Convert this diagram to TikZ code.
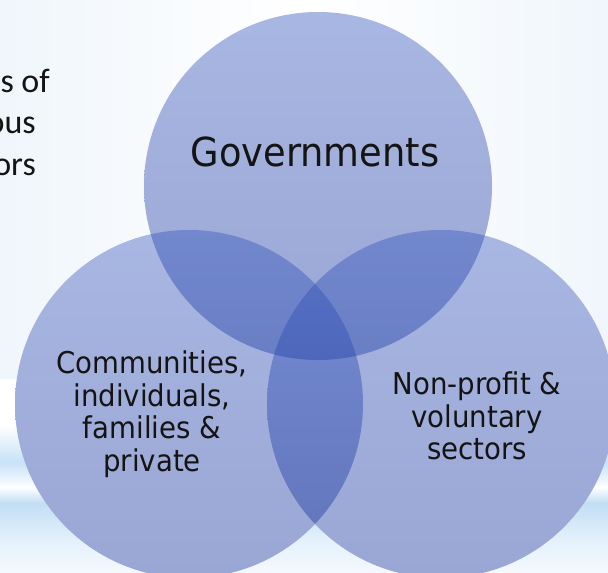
\documentclass[tikz,border=0pt]{standalone}
\usepackage{fontspec}
\setmainfont[FakeStretch=0.92]{DejaVu Sans}
\newfontfamily\slidefont{Carlito}
\definecolor{circtop}{RGB}{55,88,190}
\definecolor{circbot}{RGB}{22,50,155}
\definecolor{bgside}{RGB}{240,246,252}
\definecolor{bandA}{RGB}{200,226,247}
\definecolor{bandB}{RGB}{224,239,251}
\definecolor{bandC}{RGB}{194,222,245}
\definecolor{bandD}{RGB}{228,241,251}
\definecolor{bandE}{RGB}{245,249,253}
\definecolor{ink}{RGB}{20,20,20}
\tikzset{
  venn/.style={circle, minimum size=348pt, inner sep=0pt, draw=none,
    top color=circtop, bottom color=circbot, fill opacity=0.43},
  lab/.style={text=ink, align=center, inner sep=0pt},
  slidetext/.style={text=ink, inner sep=0pt, anchor=base east,
    font=\slidefont\fontsize{34}{40}\selectfont}
}
\begin{document}
\begin{tikzpicture}[x=1pt,y=-1pt]
\useasboundingbox (0,0) rectangle (608,573);
% background
\fill[white] (0,0) rectangle (608,573);
\shade[left color=bgside, right color=bgside, middle color=white] (0,0) rectangle (608,378);
\shade[top color=white, bottom color=bandA] (0,425) rectangle (608,462);
\shade[top color=bandA, bottom color=bandB] (0,462) rectangle (608,474);
\shade[top color=bandB, bottom color=white] (0,474) rectangle (608,487);
\shade[top color=white, bottom color=bandC] (0,487) rectangle (608,503);
\shade[top color=bandC, bottom color=bandD] (0,503) rectangle (608,540);
\shade[top color=bandD, bottom color=bandE] (0,540) rectangle (608,573);
% partially visible slide text
\node[slidetext] (t1) at (50,92) {s of};
\node[slidetext] (t2) at (36,133) {ous};
\node[slidetext] (t3) at (36,175) {ors};
% circle centres and opaque white base
\coordinate (cg) at (318,186);
\coordinate (cc) at (189,404);
\coordinate (cn) at (441,404);
\fill[white] (cg) circle[radius=174pt] (cc) circle[radius=174pt] (cn) circle[radius=174pt];
% circles
\node[venn] (gov) at (cg) {};
\node[venn] (com) at (cc) {};
\node[venn] (npo) at (cn) {};
% labels
\node[lab, font=\fontsize{40}{44}\selectfont] (govl) at (315,152) {Governments};
\node[lab, font=\fontsize{30}{32.5}\selectfont] (coml) at (152,414)
  {Communities,\\individuals,\\families \&\\private};
\node[lab, font=\fontsize{30}{32.5}\selectfont] (npol) at (477,416)
  {Non-profit \&\\voluntary\\sectors};
\end{tikzpicture}
\end{document}
